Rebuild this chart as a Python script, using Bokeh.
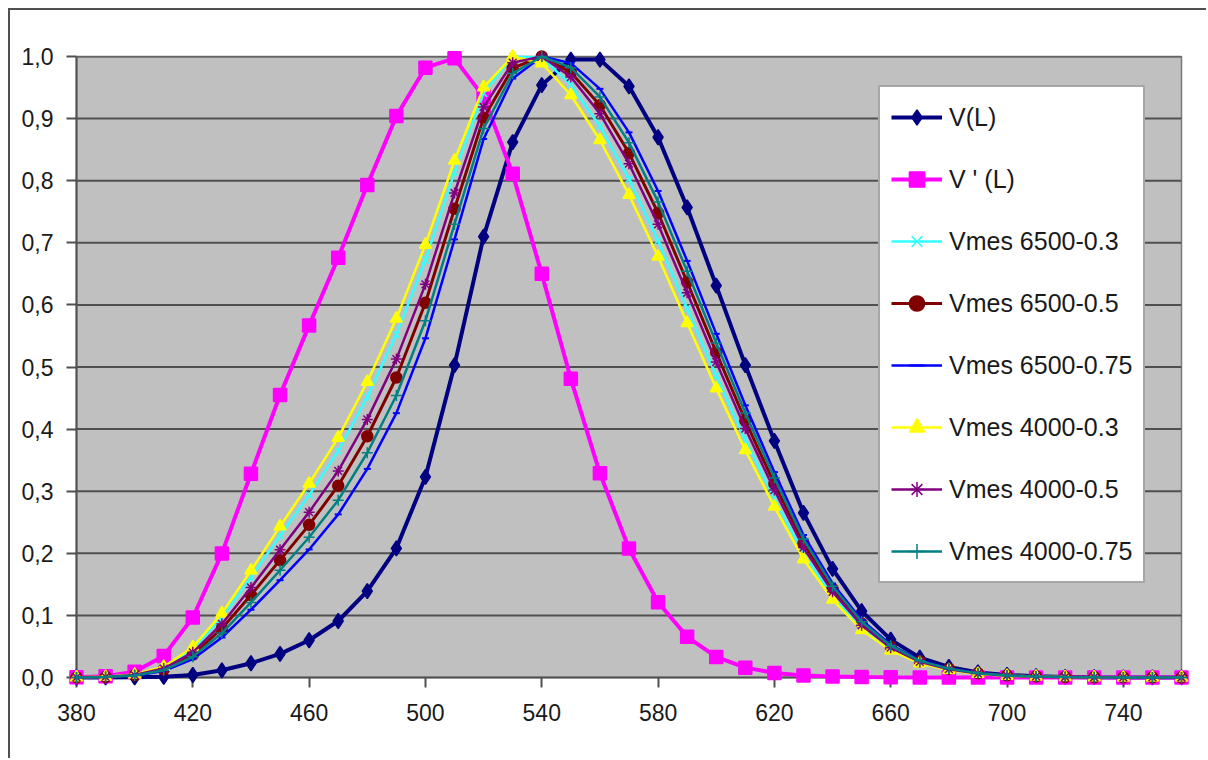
from bokeh.plotting import figure
from bokeh.models import (Range1d, FixedTicker, CustomJSTickFormatter,
                          Legend, LegendItem)
from bokeh.embed import file_html
from bokeh.resources import INLINE

# ---------------- data ----------------
wavelength = [380, 390, 400, 410, 420, 430, 440, 450, 460, 470, 480, 490, 500,
              510, 520, 530, 540, 550, 560, 570, 580, 590, 600, 610, 620, 630,
              640, 650, 660, 670, 680, 690, 700, 710, 720, 730, 740, 750, 760]

v_photopic = [0.0000, 0.0001, 0.0004, 0.0012, 0.0040, 0.0116, 0.0230, 0.0380, 0.0600,
              0.0910, 0.1390, 0.2080, 0.3230, 0.5030, 0.7100, 0.8620, 0.9540, 0.9950,
              0.9950, 0.9520, 0.8700, 0.7570, 0.6310, 0.5030, 0.3810, 0.2650, 0.1750,
              0.1070, 0.0610, 0.0320, 0.0170, 0.0082, 0.0041, 0.0021, 0.0010, 0.0005,
              0.0002, 0.0001, 0.0001]

v_scotopic = [0.0006, 0.0022, 0.0093, 0.0348, 0.0966, 0.1998, 0.3281, 0.4550, 0.5670,
              0.6760, 0.7930, 0.9040, 0.9820, 0.9970, 0.9350, 0.8110, 0.6500, 0.4810,
              0.3288, 0.2076, 0.1212, 0.0655, 0.0332, 0.0159, 0.0074, 0.0033, 0.0015,
              0.0007, 0.0003, 0.0001, 0.0001, 0.0000, 0.0000, 0.0000, 0.0000, 0.0000,
              0.0000, 0.0000, 0.0000]

vmes_6500_03 = [0.0003, 0.0010, 0.0044, 0.0162, 0.0454, 0.0963, 0.1612, 0.2281, 0.2937,
                0.3647, 0.4519, 0.5522, 0.6723, 0.8134, 0.9409, 1.0000, 0.9981, 0.9546,
                0.8878, 0.8025, 0.7033, 0.5944, 0.4861, 0.3828, 0.2880, 0.1995, 0.1314,
                0.0803, 0.0457, 0.0240, 0.0128, 0.0061, 0.0031, 0.0016, 0.0007, 0.0004,
                0.0002, 0.0001, 0.0000]

vmes_6500_05 = [0.0002, 0.0008, 0.0036, 0.0131, 0.0368, 0.0789, 0.1327, 0.1890, 0.2458,
                0.3089, 0.3885, 0.4831, 0.6035, 0.7547, 0.9011, 0.9813, 1.0000, 0.9745,
                0.9216, 0.8445, 0.7480, 0.6369, 0.5235, 0.4136, 0.3117, 0.2161, 0.1425,
                0.0871, 0.0496, 0.0260, 0.0138, 0.0067, 0.0033, 0.0017, 0.0008, 0.0004,
                0.0002, 0.0001, 0.0000]

vmes_6500_075 = [0.0002, 0.0007, 0.0029, 0.0105, 0.0298, 0.0644, 0.1092, 0.1567, 0.2062,
                 0.2627, 0.3359, 0.4257, 0.5462, 0.7055, 0.8672, 0.9645, 1.0000, 0.9893,
                 0.9479, 0.8778, 0.7835, 0.6709, 0.5534, 0.4383, 0.3307, 0.2295, 0.1514,
                 0.0925, 0.0527, 0.0276, 0.0147, 0.0071, 0.0035, 0.0018, 0.0009, 0.0004,
                 0.0002, 0.0001, 0.0001]

vmes_4000_03 = [0.0003, 0.0011, 0.0047, 0.0174, 0.0488, 0.1032, 0.1723, 0.2433, 0.3123,
                0.3862, 0.4760, 0.5779, 0.6970, 0.8325, 0.9506, 1.0000, 0.9891, 0.9380,
                0.8656, 0.7773, 0.6779, 0.5708, 0.4656, 0.3662, 0.2752, 0.1905, 0.1255,
                0.0766, 0.0436, 0.0228, 0.0121, 0.0058, 0.0029, 0.0015, 0.0007, 0.0004,
                0.0001, 0.0001, 0.0000]

vmes_4000_05 = [0.0002, 0.0009, 0.0039, 0.0144, 0.0405, 0.0863, 0.1449, 0.2057, 0.2663,
                0.3327, 0.4156, 0.5127, 0.6331, 0.7802, 0.9187, 0.9901, 1.0000, 0.9669,
                0.9080, 0.8274, 0.7297, 0.6194, 0.5081, 0.4009, 0.3019, 0.2093, 0.1379,
                0.0842, 0.0480, 0.0252, 0.0134, 0.0064, 0.0032, 0.0017, 0.0008, 0.0004,
                0.0002, 0.0001, 0.0000]

vmes_4000_075 = [0.0002, 0.0008, 0.0032, 0.0118, 0.0333, 0.0716, 0.1209, 0.1727, 0.2258,
                 0.2855, 0.3619, 0.4541, 0.5745, 0.7299, 0.8840, 0.9728, 1.0000, 0.9820,
                 0.9349, 0.8613, 0.7659, 0.6541, 0.5386, 0.4260, 0.3213, 0.2229, 0.1470,
                 0.0898, 0.0512, 0.0268, 0.0143, 0.0069, 0.0034, 0.0018, 0.0008, 0.0004,
                 0.0002, 0.0001, 0.0000]

series_labels = ["V(L)", "V ' (L)", "Vmes 6500-0.3", "Vmes 6500-0.5", "Vmes 6500-0.75",
                 "Vmes 4000-0.3", "Vmes 4000-0.5", "Vmes 4000-0.75"]
series_values = [v_photopic, v_scotopic, vmes_6500_03, vmes_6500_05, vmes_6500_075,
                 vmes_4000_03, vmes_4000_05, vmes_4000_075]

x_ticks = [380, 420, 460, 500, 540, 580, 620, 660, 700, 740]
y_ticks = [0.0, 0.1, 0.2, 0.3, 0.4, 0.5, 0.6, 0.7, 0.8, 0.9, 1.0]
grid_levels = [0.1, 0.2, 0.3, 0.4, 0.5, 0.6, 0.7, 0.8, 0.9, 1.0]

# ---------------- styles ----------------
styles = [
    dict(color="#000080", marker="diamond", size=15, lw=4.0, mlw=1.5),
    dict(color="#FF00FF", marker="square", size=13, lw=4.0, mlw=1.5),
    dict(color="#33FFFF", marker="x", size=10, lw=2.5, mlw=1.5),
    dict(color="#800000", marker="circle", size=11, lw=3.0, mlw=1.5),
    dict(color="#0000FF", marker="dash", size=7, lw=2.5, mlw=2.0),
    dict(color="#FFFF00", marker="triangle", size=12, lw=2.5, mlw=1.5),
    dict(color="#800080", marker="asterisk", size=11, lw=2.5, mlw=1.5),
    dict(color="#008080", marker="cross", size=11, lw=2.5, mlw=1.5),
]

FONT = "Liberation Sans"
AX = "#505050"

p = figure(width=1198, height=750,
           x_range=Range1d(380, 760), y_range=Range1d(0, 1),
           output_backend="svg", toolbar_location=None,
           min_border_left=66, min_border_right=27, min_border_top=46, min_border_bottom=83,
           background_fill_color="#C0C0C0", border_fill_color="white")
p.outline_line_color = "#7a7a7a"
p.outline_line_width = 1.5
p.xgrid.visible = False
p.ygrid.visible = False
p.styles = {"border-top": "2px solid #505050", "border-left": "2px solid #505050",
            "margin-top": "8px", "margin-left": "8px"}

# horizontal gridlines
p.segment(x0=380, x1=760, y0=grid_levels, y1=grid_levels, line_color=AX, line_width=2)

items = []
for label, vals, st in zip(series_labels, series_values, styles):
    lr = p.line(wavelength, vals, line_color=st["color"], line_width=st["lw"],
                level="annotation")
    sr = p.scatter(wavelength, vals, marker=st["marker"], size=st["size"],
                   fill_color=st["color"], line_color=st["color"], line_width=st["mlw"],
                   level="annotation")
    items.append(LegendItem(label=label, renderers=[lr, sr]))

# axes
xa = p.xaxis[0]
xa.ticker = FixedTicker(ticks=x_ticks)
ya = p.yaxis[0]
ya.ticker = FixedTicker(ticks=y_ticks)
ya.formatter = CustomJSTickFormatter(code="return tick.toFixed(1).replace('.', ',');")
for ax in (xa, ya):
    ax.axis_line_color = AX
    ax.axis_line_width = 2
    ax.major_tick_in = 0
    ax.major_tick_out = 10
    ax.major_tick_line_color = AX
    ax.major_tick_line_width = 2
    ax.minor_tick_line_color = None
    ax.major_label_text_font = FONT
    ax.major_label_text_font_size = "23px"
    ax.major_label_text_color = "#1a1a1a"
xa.major_label_standoff = 16
ya.major_label_standoff = 13

legend = Legend(items=items, location=(802, 94), orientation="vertical",
                label_text_font=FONT, label_text_font_size="25px", label_text_color="#1a1a1a",
                glyph_width=51, glyph_height=38, label_height=38, label_standoff=7,
                spacing=24, padding=11, margin=0,
                border_line_color=AX, border_line_width=2,
                background_fill_color="white", background_fill_alpha=1.0)
legend.level = "overlay"
p.add_layout(legend, "center")

open("out.html", "w").write(file_html(p, INLINE))
